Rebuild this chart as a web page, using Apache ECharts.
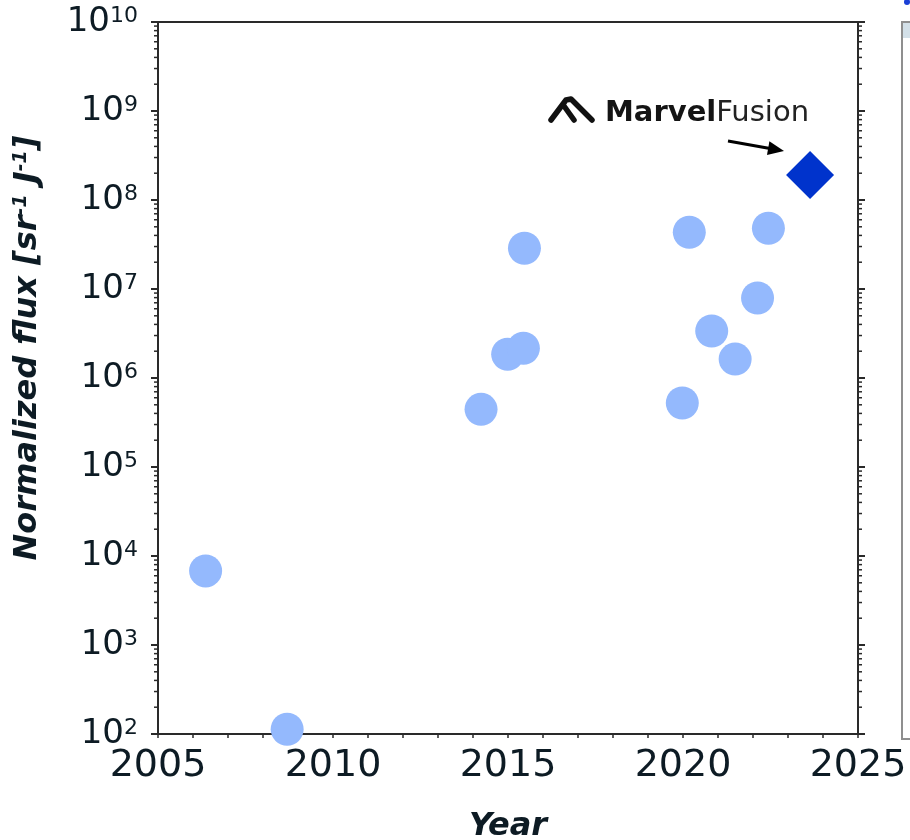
<!DOCTYPE html>
<html>
<head>
<meta charset="utf-8">
<title>Normalized flux</title>
<script src="https://cdn.jsdelivr.net/npm/echarts@6/dist/echarts.min.js"></script>
<style>
  html, body { margin: 0; padding: 0; background: #fff; }
  #chart { width: 910px; height: 840px; }
</style>
</head>
<body>
<div id="chart"></div>
<script>
// values
const years = [2006.36, 2008.69, 2014.23, 2014.99, 2015.44, 2015.47, 2019.98, 2020.18, 2020.82, 2021.49, 2022.13, 2022.44];
const flux = [6.8e3, 113, 4.45e5, 1.85e6, 2.16e6, 2.87e7, 5.24e5, 4.34e7, 3.37e6, 1.63e6, 7.93e6, 4.81e7];
const marvelYear = [2023.63];
const marvelFlux = [1.91e8];
const xTicks = [2005, 2010, 2015, 2020, 2025];
const decades = [2, 3, 4, 5, 6, 7, 8, 9, 10];

const xMin = xTicks[0], xMax = xTicks[xTicks.length - 1];
const inkColor = '#0d1b24';
const axisColor = '#2a2a2a';

// log minor ticks (2..9 per decade) for both y axes
let minorTicks = [];
for (let i = 0; i < decades.length - 1; i++) {
  for (let k = 2; k <= 9; k++) {
    minorTicks.push([xMin, k * Math.pow(10, decades[i])]);
  }
}

let circles = years.map((y, i) => [y, flux[i]]);
let diamond = marvelYear.map((y, i) => [y, marvelFlux[i]]);

let myChart = echarts.init(document.getElementById('chart'));

let yAxisBase = {
  type: 'log',
  logBase: 10,
  min: Math.pow(10, decades[0]),
  max: Math.pow(10, decades[decades.length - 1]),
  interval: 1,
  splitNumber: 8,
  splitLine: { show: false },
  axisLine: { show: true, lineStyle: { color: axisColor, width: 2 } },
  axisTick: { show: true, inside: false, length: 7, lineStyle: { color: axisColor, width: 2 } }
};

let option = {
  animation: false,
  grid: { left: 158, right: 52, top: 22, bottom: 106, outerBoundsMode: 'none', containLabel: false },
  xAxis: [{
    type: 'value',
    min: xMin,
    max: xMax,
    interval: 5,
    name: 'Year',
    nameLocation: 'middle',
    nameGap: 77,
    nameTextStyle: {
      fontFamily: 'DejaVu Sans', fontSize: 32, fontWeight: 'bold', fontStyle: 'italic', color: inkColor
    },
    splitLine: { show: false },
    axisLine: { show: true, onZero: false, lineStyle: { color: axisColor, width: 2 } },
    axisTick: { show: true, inside: false, length: 4, lineStyle: { color: axisColor, width: 1.5 } },
    minorTick: { show: true, splitNumber: 5, length: 4, lineStyle: { color: axisColor, width: 1.5 } },
    axisLabel: {
      margin: 13,
      fontFamily: 'DejaVu Sans',
      fontSize: 38,
      color: inkColor,
      formatter: v => String(v)
    }
  }, {
    type: 'value',
    position: 'top',
    min: xMin,
    max: xMax,
    interval: 5,
    splitLine: { show: false },
    axisLine: { show: true, onZero: false, lineStyle: { color: axisColor, width: 2 } },
    axisTick: { show: false },
    axisLabel: { show: false }
  }],
  yAxis: [Object.assign({}, yAxisBase, {
    position: 'left',
    name: '{t|Normalized flux [sr}{s|-1}{t| J}{s|-1}{t|]}',
    nameLocation: 'middle',
    nameGap: 114,
    nameRotate: 90,
    nameTextStyle: {
      padding: [0, 0, 0, 60],
      rich: {
        t: { fontFamily: 'DejaVu Sans', fontSize: 32, lineHeight: 32, fontWeight: 'bold', fontStyle: 'italic', color: inkColor },
        s: { fontFamily: 'DejaVu Sans', fontSize: 19, lineHeight: 19, fontWeight: 'bold', fontStyle: 'italic', color: inkColor, verticalAlign: 'top' }
      }
    },
    axisLabel: {
      margin: 20,
      formatter: v => '{b|10}{s|' + Math.round(Math.log10(v)) + '}',
      rich: {
        b: { fontFamily: 'DejaVu Sans', fontSize: 34, lineHeight: 34, color: inkColor },
        s: { fontFamily: 'DejaVu Sans', fontSize: 22, lineHeight: 22, color: inkColor, verticalAlign: 'top' }
      }
    }
  }), Object.assign({}, yAxisBase, {
    position: 'right',
    axisLabel: { show: false }
  })],
  series: [{
    // minor log ticks drawn against the axis scale
    type: 'custom',
    silent: true,
    xAxisIndex: 0,
    yAxisIndex: 0,
    data: minorTicks,
    encode: { x: 0, y: 1 },
    renderItem: (params, api) => {
      let l = api.coord([xMin, api.value(1)]);
      let r = api.coord([xMax, api.value(1)]);
      let st = { stroke: axisColor, lineWidth: 1.5 };
      return {
        type: 'group',
        children: [
          { type: 'line', shape: { x1: l[0] - 4, y1: l[1], x2: l[0], y2: l[1] }, style: st },
          { type: 'line', shape: { x1: r[0], y1: r[1], x2: r[0] + 4, y2: r[1] }, style: st }
        ]
      };
    }
  }, {
    type: 'scatter',
    data: circles,
    symbol: 'circle',
    symbolSize: 33,
    itemStyle: { color: '#94b9fd', opacity: 1 }
  }, {
    type: 'scatter',
    data: diamond,
    symbol: 'diamond',
    symbolSize: [48, 48],
    itemStyle: { color: '#0033cc', opacity: 1 }
  }],
  graphic: [
    // Marvel Fusion logo mark
    {
      type: 'polyline',
      shape: { points: [[551, 120], [566, 100], [571, 99], [592, 120]] },
      style: { stroke: '#111', lineWidth: 5.5, fill: null, lineJoin: 'round', lineCap: 'round' }
    },
    {
      type: 'line',
      shape: { x1: 564, y1: 106, x2: 574, y2: 120 },
      style: { stroke: '#111', lineWidth: 5.5, lineCap: 'round' }
    },
    {
      type: 'text',
      style: {
        x: 605,
        y: 113,
        verticalAlign: 'middle',
        text: '{b|Marvel}{n|Fusion}',
        rich: {
          b: { fontFamily: 'DejaVu Sans', fontSize: 29, fontWeight: 'bold', fill: '#141414' },
          n: { fontFamily: 'DejaVu Sans', fontSize: 29, fontWeight: 'normal', fill: '#222' }
        }
      }
    },
    // arrow pointing at the diamond
    {
      type: 'line',
      shape: { x1: 728, y1: 141, x2: 770, y2: 148.4 },
      style: { stroke: '#000', lineWidth: 3 }
    },
    {
      type: 'polygon',
      shape: { points: [[784, 151], [767, 155.1], [769.4, 141.3]] },
      style: { fill: '#000' }
    },
    // edge of the neighbouring panel
    {
      type: 'rect',
      shape: { x: 902, y: 22, width: 20, height: 717 },
      style: { fill: '#fff', stroke: '#8f8f8f', lineWidth: 2 }
    },
    {
      type: 'rect',
      shape: { x: 903, y: 23, width: 10, height: 15 },
      style: { fill: '#d3e0e8' }
    },
    {
      type: 'circle',
      shape: { cx: 907, cy: 2, r: 3 },
      style: { fill: '#1a3fd6' }
    }
  ]
};

myChart.setOption(option);
</script>
</body>
</html>
